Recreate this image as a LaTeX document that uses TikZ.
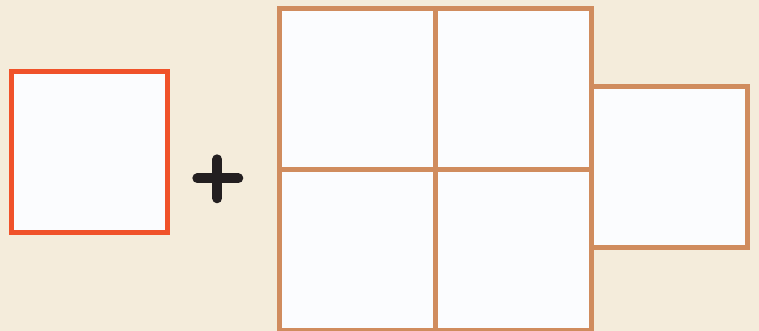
\documentclass[tikz,border=0pt]{standalone}
\definecolor{bgc}{HTML}{F4ECDB}
\definecolor{redc}{HTML}{F0522A}
\definecolor{brownc}{HTML}{D08C5E}
\definecolor{fillc}{HTML}{FBFCFE}
\definecolor{plusc}{HTML}{231F20}
\begin{document}
\begin{tikzpicture}[x=1pt,y=-1pt,
  redsq/.style={draw=redc,fill=fillc,line width=4.7pt,inner sep=0pt,outer sep=0pt,minimum width=156pt,minimum height=161pt},
  cell/.style={draw=brownc,fill=fillc,line width=5pt,inner sep=0pt,outer sep=0pt,minimum width=156pt,minimum height=161pt},
  plusbar/.style={draw=plusc,line width=10pt,line cap=round}]
\useasboundingbox (0,0) rectangle (759,331);
\fill[bgc] (0,0) rectangle (759,331);
\begin{scope}
\clip (0,0) rectangle (759,331);
\node[redsq] (single) at (89.7,152.2) {};
\node[cell] (c11) at (357,89) {};
\node[cell] (c12) at (513,89) {};
\node[cell] (c21) at (357,250) {};
\node[cell] (c22) at (513,250) {};
\node[cell] (side) at (669,167) {};
\end{scope}
\coordinate (pl) at (197.3,178.3);
\coordinate (pr) at (238.3,178.3);
\coordinate (pt) at (217.3,159.3);
\coordinate (pb) at (217.3,198.3);
\draw[plusbar] (pl) -- (pr);
\draw[plusbar] (pt) -- (pb);
\end{tikzpicture}
\end{document}
